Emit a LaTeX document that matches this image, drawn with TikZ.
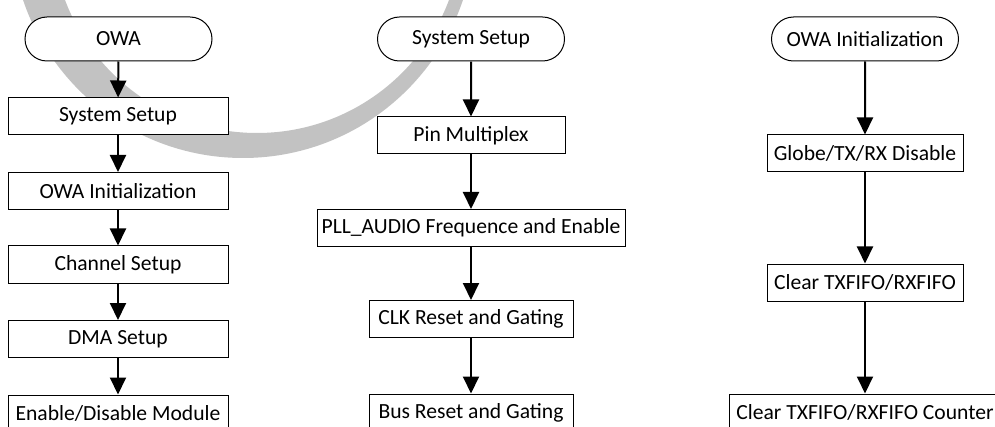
\documentclass[tikz,border=0pt]{standalone}
\usepackage{fontspec}
\setmainfont{Carlito}
\usetikzlibrary{arrows.meta,shapes.misc}
\begin{document}
\begin{tikzpicture}[x=0.5pt,y=-0.5pt,font=\fontsize{10.8}{12}\selectfont,>={Triangle[width=8pt,length=8.5pt]},
  stepbox/.style={draw,line width=0.5pt,fill=white,minimum height=18.5pt,inner sep=0pt},
  term/.style={draw,line width=0.5pt,fill=white,rounded rectangle,minimum width=93.5pt,minimum height=22pt,inner sep=0pt},
  flow/.style={->,line width=1pt}]
\useasboundingbox (0,0) rectangle (995,427);
\clip (0,0) rectangle (995,427);
% watermark arc
\fill[black!24,even odd rule] (243,-74) circle[radius=116pt] (257,-72) circle[radius=102.5pt];
% main flow
\node[term] (owa) at (118.5,39) {OWA};
\node[stepbox,minimum width=110pt] (sys) at (118,116.5) {System Setup};
\node[stepbox,minimum width=110pt] (init) at (118,191) {OWA Initialization};
\node[stepbox,minimum width=110pt] (chan) at (118,264.5) {Channel Setup};
\node[stepbox,minimum width=110pt] (dma) at (118,339) {DMA Setup};
\node[stepbox,minimum width=110pt] (endis) at (118,413.5) {Enable/Disable Module};
% system setup
\node[term] (sysT) at (471,39) {System Setup};
\node[stepbox,minimum width=94pt] (pin) at (471,135.5) {Pin Multiplex};
\node[stepbox,minimum width=154pt] (pll) at (471,228) {PLL\_AUDIO Frequence and Enable};
\node[stepbox,minimum width=102pt] (clk) at (471,319) {CLK Reset and Gating};
\node[stepbox,minimum width=102pt] (bus) at (471,412.5) {Bus Reset and Gating};
% owa initialization
\node[term] (initT) at (865,39) {OWA Initialization};
\node[stepbox,minimum width=98pt] (glob) at (865,153.5) {Globe/TX/RX Disable};
\node[stepbox,minimum width=98pt] (clr) at (865,282.5) {Clear TXFIFO/RXFIFO};
\node[stepbox,minimum width=136pt] (cnt) at (865,412.5) {Clear TXFIFO/RXFIFO Counter};
\foreach \a/\b in {owa/sys,sys/init,init/chan,chan/dma,dma/endis,sysT/pin,pin/pll,pll/clk,clk/bus,initT/glob,glob/clr,clr/cnt}
  \draw[flow] (\a) -- (\b);
\end{tikzpicture}
\end{document}
